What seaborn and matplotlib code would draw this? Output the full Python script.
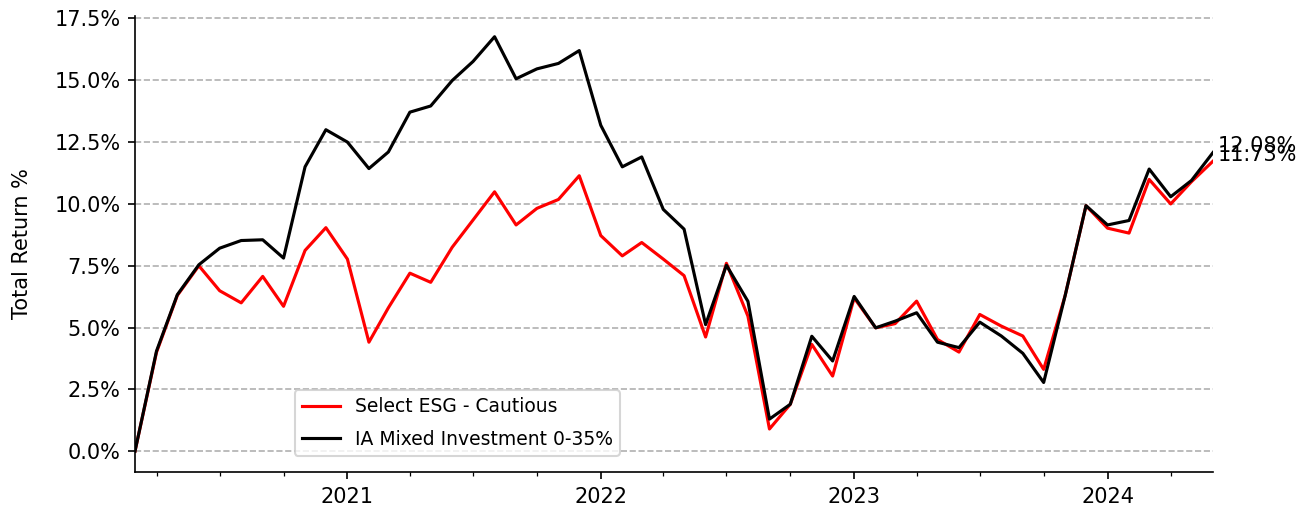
# Cumulative total return chart: fund vs sector average
import matplotlib

matplotlib.use("Agg", force=True)

import matplotlib.pyplot as plt
import matplotlib.dates as mdates
import matplotlib.ticker as mticker
import seaborn as sns
import pandas as pd

# Monthly dates (month starts), March 2020 to June 2024
dates = pd.date_range("2020-03-01", "2024-06-01", freq="MS")

fund_name = "Select ESG - Cautious"
sector_name = "IA Mixed Investment 0-35%"

# Cumulative total return in %
fund_returns = [
    0.0, 4.0, 6.3, 7.5, 6.49, 6.0, 7.07, 5.86, 8.12, 9.04,
    7.77, 4.41, 5.8, 7.2, 6.83, 8.25, 9.35, 10.49, 9.15, 9.82,
    10.18, 11.14, 8.72, 7.9, 8.44, 7.77, 7.1, 4.62, 7.6, 5.46,
    0.9, 1.9, 4.32, 3.04, 6.2, 4.99, 5.16, 6.07, 4.52, 4.01,
    5.53, 5.06, 4.66, 3.31, 6.3, 9.93, 9.02, 8.82, 10.99, 10.0,
    10.9, 11.73,
]
sector_returns = [
    0.0, 4.05, 6.33, 7.54, 8.21, 8.52, 8.55, 7.81, 11.5, 13.0,
    12.5, 11.43, 12.1, 13.71, 13.96, 14.99, 15.76, 16.76, 15.06, 15.46,
    15.68, 16.2, 13.18, 11.5, 11.9, 9.78, 8.98, 5.12, 7.52, 6.06,
    1.3, 1.9, 4.65, 3.65, 6.26, 4.99, 5.26, 5.6, 4.41, 4.19,
    5.22, 4.66, 3.96, 2.78, 6.3, 9.93, 9.15, 9.33, 11.41, 10.29,
    10.95, 12.08,
]

df = pd.DataFrame({"date": dates, "fund": fund_returns, "sector": sector_returns})

fig, ax = plt.subplots(figsize=(8.72, 3.44), dpi=150)
fig.subplots_adjust(left=0.1032, right=0.9274, top=0.969, bottom=0.0853)

sns.lineplot(data=df, x="date", y="fund", color="red", linewidth=1.5, label=fund_name, ax=ax)
sns.lineplot(data=df, x="date", y="sector", color="black", linewidth=1.5, label=sector_name, ax=ax)

# Final values written next to the line ends
for col in ["sector", "fund"]:
    last = df[col].iloc[-1]
    ax.annotate(f"{last:.2f}%", xy=(df["date"].iloc[-1], last),
                xytext=(2, 0), textcoords="offset points", ha="left", va="baseline")

ax.set_xlim(df["date"].iloc[0], df["date"].iloc[-1])
ax.xaxis.set_major_locator(mdates.YearLocator())
ax.xaxis.set_major_formatter(mdates.DateFormatter("%Y"))
ax.xaxis.set_minor_locator(mdates.MonthLocator(bymonth=[1, 4, 7, 10]))

ax.yaxis.set_major_locator(mticker.MultipleLocator(2.5))
ax.yaxis.set_major_formatter(mticker.PercentFormatter(decimals=1))

ax.set_xlabel("")
ax.set_ylabel("Total Return %", labelpad=10.5)
ax.grid(axis="y", linestyle="--", color="#b0b0b0", linewidth=0.8)
ax.set_axisbelow(True)

ax.legend(loc="upper left", bbox_to_anchor=(0.148, 0.18), borderaxespad=0,
          fontsize=9, labelspacing=0.7)
sns.despine(ax=ax)

fig.savefig("out.png", dpi=150)
